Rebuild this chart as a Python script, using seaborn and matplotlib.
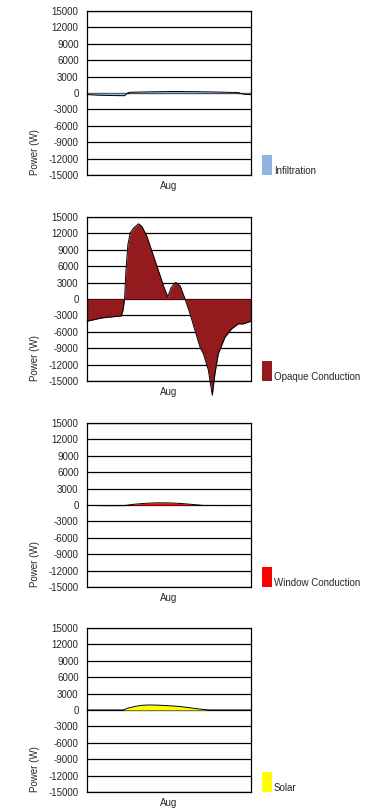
import numpy as np
import pandas as pd
import matplotlib
matplotlib.use("Agg")
import matplotlib.pyplot as plt
from matplotlib.patches import Rectangle
import seaborn as sns

# ---------- DATA (hour of a typical August day -> W) ----------
infil_hours = [0, 2, 4, 5.5, 5.95, 6.3, 8, 10, 12, 14, 16, 18, 20, 22.2, 22.6, 23.3, 24]
infil_vals = [-300, -420, -480, -500, -20, 120, 170, 220, 260, 260, 230, 190, 140, 60, -150, -280, -300]

opaque_hours = [0, 2.19, 5.01, 5.26, 5.5, 5.7, 5.99, 6.33, 6.82, 7.55, 8.03, 8.76, 9.49,
                10.47, 11.29, 11.83, 12.32, 13.0, 13.63, 14.36, 15.09, 15.82, 16.55,
                17.04, 17.77, 18.35, 18.74, 19.23, 20.2, 21.18, 22.15, 22.88, 24]
opaque_vals = [-4060, -3450, -3090, -2100, 0, 5150, 10000, 12100, 13000, 13760, 13300,
               11500, 8800, 5150, 2100, 420, 2100, 3030, 2400, 0, -2700, -5760, -8800,
               -10000, -13000, -17600, -13600, -10000, -7000, -5450, -4550, -4550, -4060]

window_hours = [0, 3, 5.5, 6.1, 7, 8.5, 10.2, 12, 13.5, 15, 16.3, 17, 20, 24]
window_vals = [-80, -120, -100, 0, 150, 300, 400, 380, 300, 150, 0, -80, -100, -90]

solar_hours = [0, 5.3, 6, 7, 8, 9, 10, 11, 12, 13, 14, 15, 16, 17, 18, 24]
solar_vals = [0, 0, 350, 650, 850, 920, 900, 850, 780, 700, 580, 420, 250, 100, 0, 0]

series_names = ["Infiltration", "Opaque Conduction", "Window Conduction", "Solar"]
series_colors = ["#8DB4E2", "#931A1D", "#FF0000", "#FFFF00"]
yticks = list(range(-15000, 15001, 3000))
month_label = "Aug"

frames = [
    pd.DataFrame({"hour": infil_hours, "power": infil_vals}),
    pd.DataFrame({"hour": opaque_hours, "power": opaque_vals}),
    pd.DataFrame({"hour": window_hours, "power": window_vals}),
    pd.DataFrame({"hour": solar_hours, "power": solar_vals}),
]

# ---------- STYLE ----------
sns.set_style("white")
plt.rcParams['font.family'] = ['Liberation Sans', 'DejaVu Sans']
plt.rcParams['font.size'] = 7

fig = plt.figure(figsize=(3.75, 8.1), dpi=100)

# axes bottoms in figure fraction (one panel per component)
bottoms = [0.784, 0.5296, 0.2753, 0.0222]

for df, name, color, b in zip(frames, series_names, series_colors, bottoms):
    ax = fig.add_axes([0.232, b, 0.437, 0.2025])
    ax.fill_between(df["hour"], df["power"], 0, color=color, lw=0, clip_on=False, zorder=2)
    sns.lineplot(data=df, x="hour", y="power", ax=ax, color="black", lw=0.7,
                 clip_on=False, zorder=3)

    ax.set_xlim(0, 24)
    ax.set_ylim(-15000, 15000)
    ax.set_yticks(yticks)
    ax.set_yticklabels([str(t) for t in yticks], fontsize=7)
    ax.set_xticks([12])
    ax.set_xticklabels([month_label], fontsize=7)
    ax.tick_params(axis="both", length=0, pad=6)
    ax.tick_params(axis="x", pad=4)
    for t in yticks:
        ax.axhline(t, color="black", lw=0.9, zorder=1)
    for s in ax.spines.values():
        s.set_color("black")
        s.set_linewidth(0.9)

    ax.set_xlabel("")
    ax.set_ylabel("")
    ax.text(-0.317, 0, "Power (W)", rotation=90, transform=ax.transAxes,
            ha="center", va="bottom", fontsize=7)

    # legend swatch + label
    ax.add_patch(Rectangle((1.067, 0.0), 0.061, 0.122, transform=ax.transAxes,
                           facecolor=color, edgecolor="none", clip_on=False))
    ax.text(1.14, 0.005, name, transform=ax.transAxes, ha="left", va="baseline",
            fontsize=7)

fig.savefig("out.png", dpi=100)
